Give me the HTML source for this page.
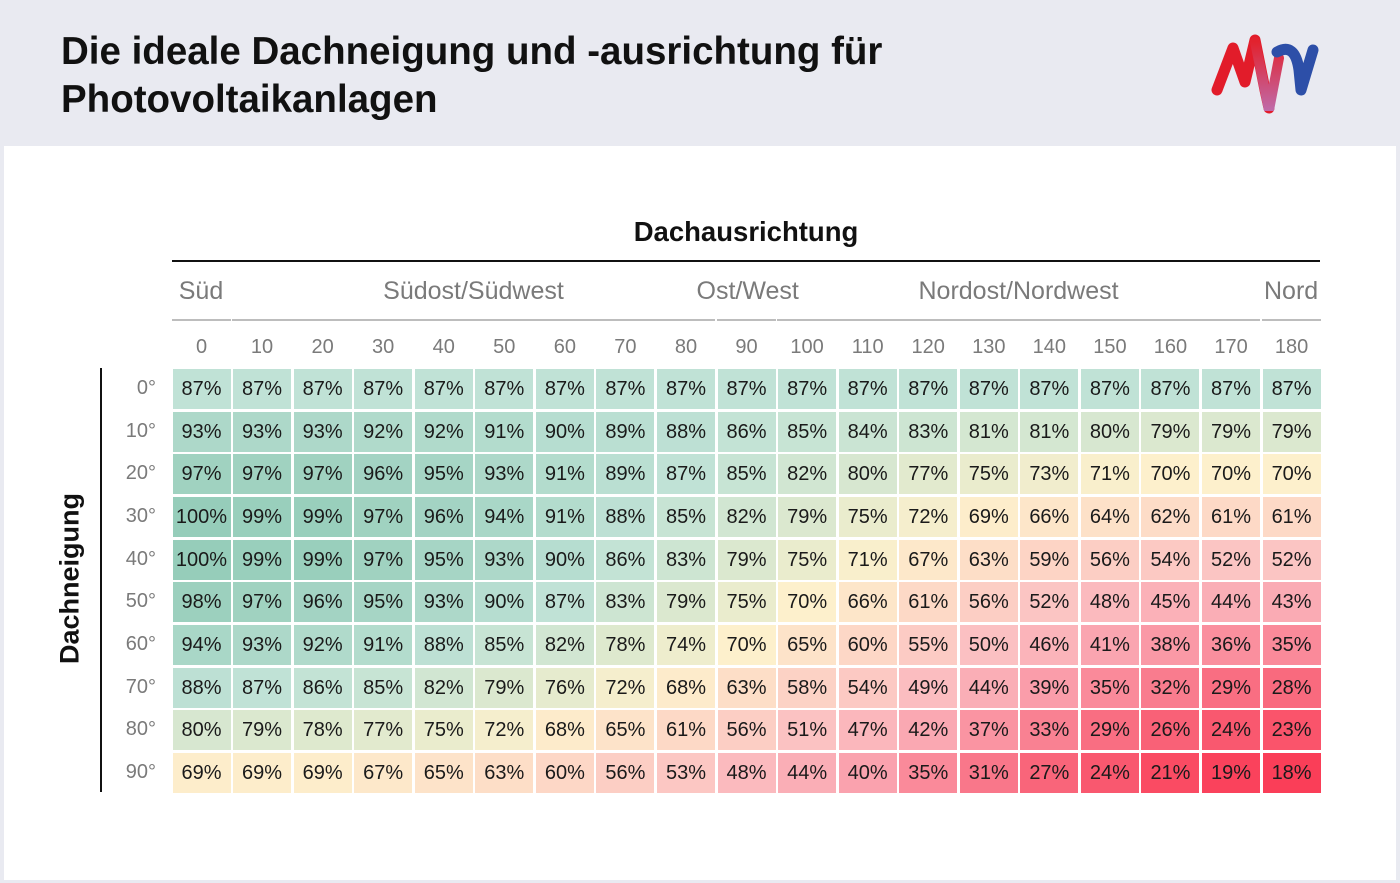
<!DOCTYPE html>
<html><head><meta charset="utf-8"><style>
body{margin:0;width:1400px;height:883px;background:#e9eaf1;font-family:"Liberation Sans",sans-serif;position:relative;overflow:hidden}
.card{position:absolute;left:4px;top:146px;width:1392px;height:734px;background:#fff}
.t{position:absolute;white-space:nowrap}
.cell{position:absolute;width:58px;height:40px;line-height:40px;text-align:center;font-size:20px;color:#1a1a1a}
.g{color:#7a7a7a}
</style></head><body>
<div class="t" style="left:61px;top:28px;font-size:38.5px;font-weight:bold;line-height:48px;color:#111">Die ideale Dachneigung und -ausrichtung für<br>Photovoltaikanlagen</div>
<svg style="position:absolute;left:1205px;top:30px" width="125" height="90" viewBox="0 0 125 90">
<defs><linearGradient id="a" x1="0" x2="0" y1="0" y2="1"><stop offset="0" stop-color="#e2222e"/><stop offset="1" stop-color="#c06aa8"/></linearGradient></defs>
<path d="M12 60 L28 18 L40 52 L50 10 L60 60 L64 78" fill="none" stroke="#e21c2a" stroke-width="11" stroke-linecap="round" stroke-linejoin="round"/>
<path d="M50 12 L64 80 L74 28" fill="none" stroke="url(#a)" stroke-width="10" stroke-linecap="round"/>
<path d="M72 22 Q90 12 94 40 L96 60 L108 20" fill="none" stroke="#2d4fa8" stroke-width="11" stroke-linecap="round" stroke-linejoin="round"/>
</svg>
<div class="card"></div>
<div class="t" style="left:546px;width:400px;text-align:center;top:216px;font-size:27.5px;font-weight:bold;color:#111">Dachausrichtung</div>
<div style="position:absolute;left:172px;top:260px;width:1148px;height:2px;background:#111"></div>
<div id="h"></div>
<div style="position:absolute;left:100px;top:368px;width:2px;height:424px;background:#111"></div>
<div class="t" style="left:-30px;top:563px;width:200px;text-align:center;font-size:27px;font-weight:bold;color:#111;transform:rotate(-90deg)">Dachneigung</div>
<div id="g"></div>
<script>
const data=[
[87,87,87,87,87,87,87,87,87,87,87,87,87,87,87,87,87,87,87],
[93,93,93,92,92,91,90,89,88,86,85,84,83,81,81,80,79,79,79],
[97,97,97,96,95,93,91,89,87,85,82,80,77,75,73,71,70,70,70],
[100,99,99,97,96,94,91,88,85,82,79,75,72,69,66,64,62,61,61],
[100,99,99,97,95,93,90,86,83,79,75,71,67,63,59,56,54,52,52],
[98,97,96,95,93,90,87,83,79,75,70,66,61,56,52,48,45,44,43],
[94,93,92,91,88,85,82,78,74,70,65,60,55,50,46,41,38,36,35],
[88,87,86,85,82,79,76,72,68,63,58,54,49,44,39,35,32,29,28],
[80,79,78,77,75,72,68,65,61,56,51,47,42,37,33,29,26,24,23],
[69,69,69,67,65,63,60,56,53,48,44,40,35,31,27,24,21,19,18]];
const stops=[[100,[150,205,186]],[87,[192,226,214]],[78,[222,233,206]],[70,[253,240,204]],[61,[253,217,198]],[50,[251,192,194]],[40,[250,162,174]],[29,[249,110,130]],[18,[250,62,88]]];
function col(v){for(let i=0;i<stops.length-1;i++){const[a,ca]=stops[i],[b,cb]=stops[i+1];if(v<=a&&v>=b){const t=(a-v)/(a-b);return 'rgb('+ca.map((c,k)=>Math.round(c+(cb[k]-c)*t)).join(',')+')';}}return 'rgb(250,62,88)';}
const P=60.56,X0=172.5,Y0=369,R=42.67;let h='';
data.forEach((r,i)=>r.forEach((v,j)=>{h+=`<div class="cell" style="left:${X0+j*P}px;top:${Y0+i*R}px;background:${col(v)}">${v}%</div>`;}));
for(let i=0;i<10;i++)h+=`<div class="t g" style="left:96px;width:60px;text-align:right;top:${Y0+i*R+8}px;font-size:20px">${i*10}°</div>`;
for(let j=0;j<19;j++)h+=`<div class="t g" style="left:${X0+j*P}px;width:58px;text-align:center;top:336px;font-size:20px">${j*10}</div>`;
document.getElementById('g').innerHTML=h;
const grp=[["Süd",0,0],["Südost/Südwest",1,8],["Ost/West",9,9],["Nordost/Nordwest",10,17],["Nord",18,18]];
let s='';grp.forEach(([n,a,b])=>{const l=X0+a*P-1,w=(b-a)*P+59;s+=`<div style="position:absolute;left:${l}px;top:319px;width:${w}px;height:2px;background:#bdbdbd"></div><div class="t g" style="left:${l-20}px;width:${w+40}px;text-align:center;top:277px;font-size:25px">${n}</div>`;});
document.getElementById('h').innerHTML=s;
</script>
</body></html>
